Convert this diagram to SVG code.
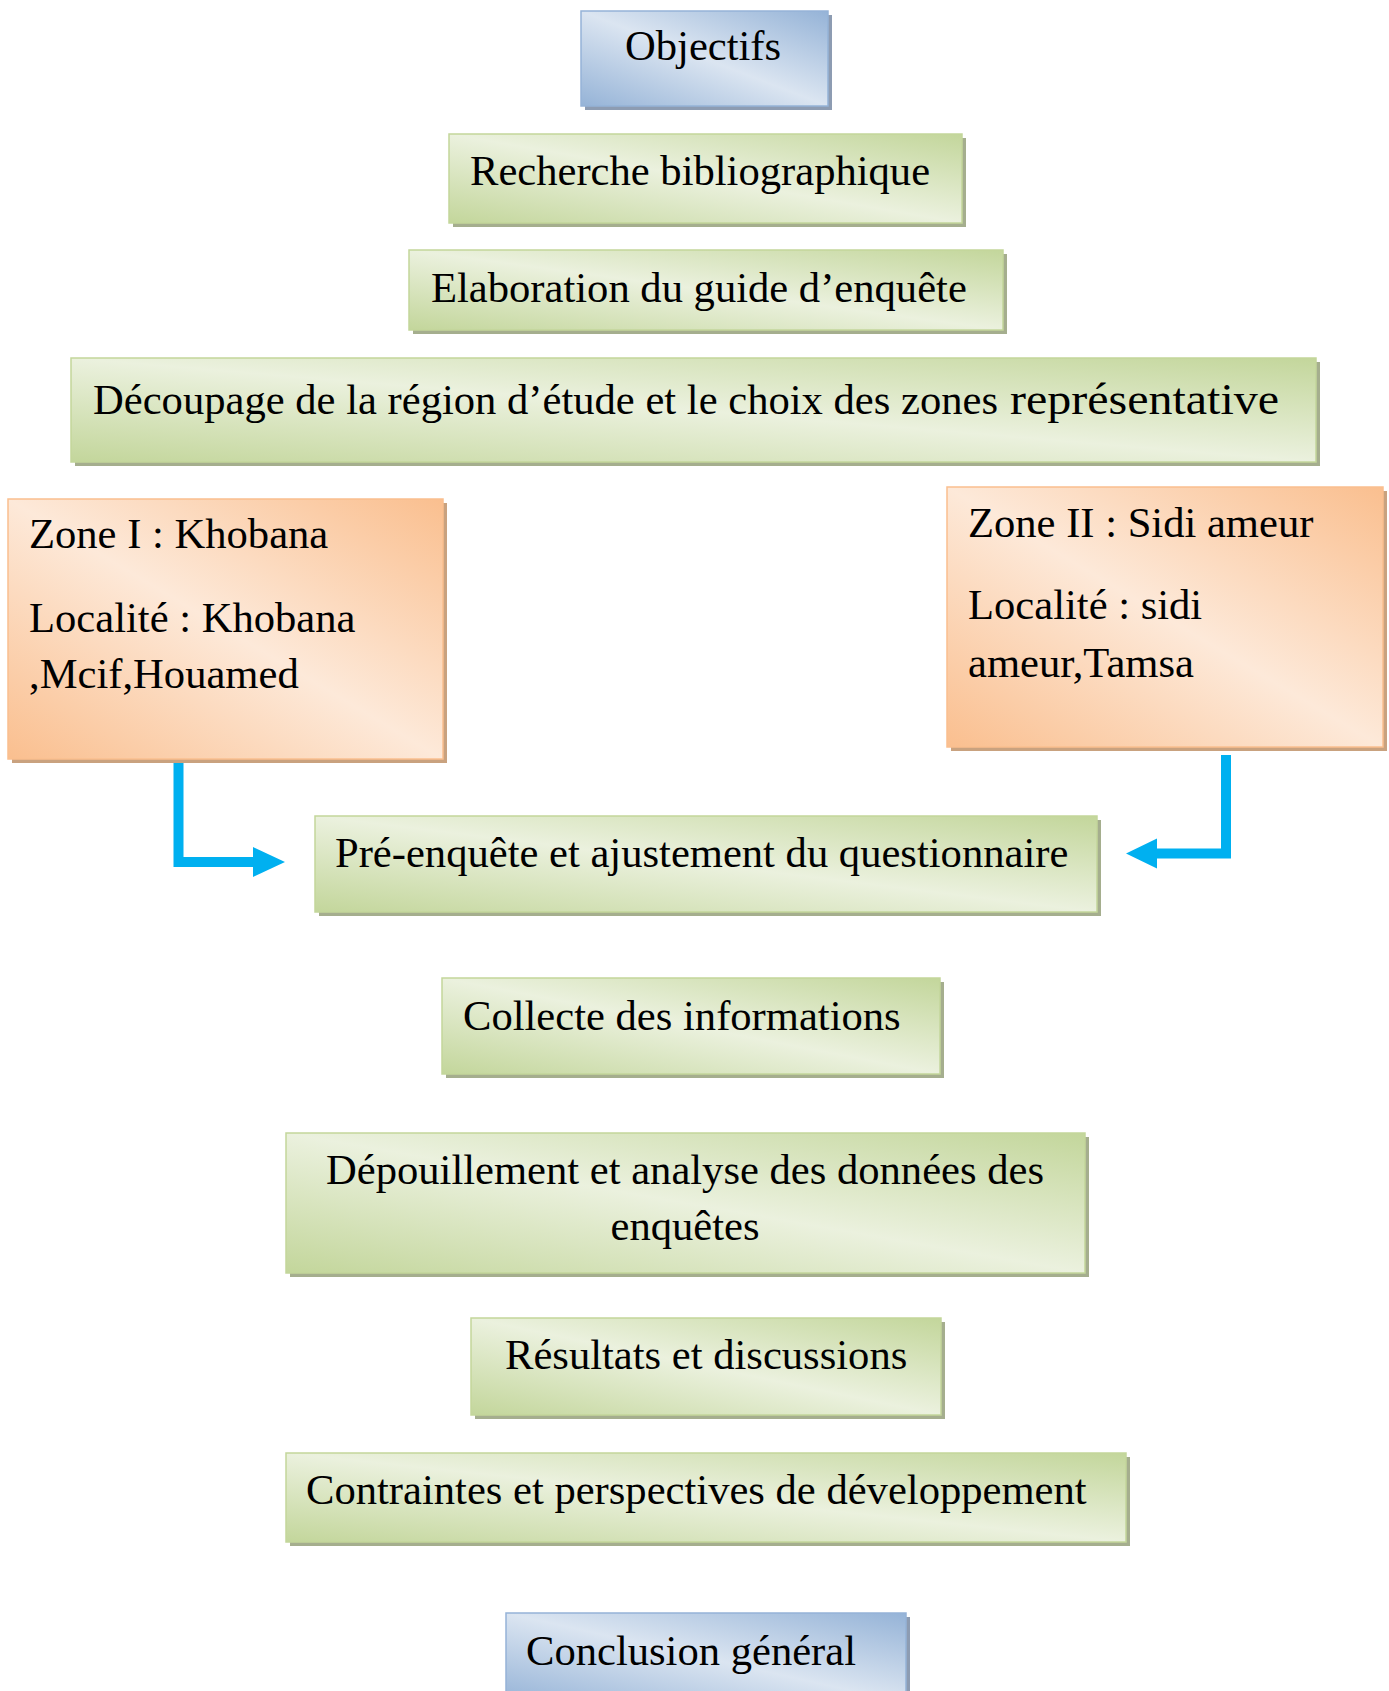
<svg xmlns="http://www.w3.org/2000/svg" width="1389" height="1691" viewBox="0 0 1389 1691">
<defs>
<linearGradient id="gGreen" x1="1" y1="0" x2="0" y2="1">
<stop offset="0" stop-color="#c3d69b"/><stop offset="0.5" stop-color="#ebf1de"/><stop offset="1" stop-color="#c3d69b"/>
</linearGradient>
<linearGradient id="gBlue" x1="1" y1="0" x2="0" y2="1">
<stop offset="0" stop-color="#95b3d7"/><stop offset="0.5" stop-color="#dbe5f1"/><stop offset="1" stop-color="#95b3d7"/>
</linearGradient>
<linearGradient id="gOrange" x1="1" y1="0" x2="0" y2="1">
<stop offset="0" stop-color="#fabf8f"/><stop offset="0.5" stop-color="#fde9d9"/><stop offset="1" stop-color="#fabf8f"/>
</linearGradient>
</defs>
<style>
text{font-family:"Liberation Serif","Times New Roman",serif;font-size:42.6px;fill:#000}
.sg{fill:#a5ae8e}
.sb{fill:#8d9cb2}
.so{fill:#c9a27f}
.green{fill:url(#gGreen);stroke:#c3d69b;stroke-width:1.5}
.blue{fill:url(#gBlue);stroke:#95b3d7;stroke-width:1.5}
.orange{fill:url(#gOrange);stroke:#fabf8f;stroke-width:1.5}
.conn{fill:none;stroke:#00b0f0;stroke-width:10;stroke-linejoin:miter}
.head{fill:#00b0f0}
</style>
<rect width="1389" height="1691" fill="#ffffff"/>

<g id="objectifs">
<rect class="sb" x="585" y="15" width="247" height="95"/>
<rect class="blue" x="581" y="11" width="247" height="95"/>
<text x="625" y="60">Objectifs</text>
</g>

<g id="recherche">
<rect class="sg" x="453" y="138" width="513" height="89"/>
<rect class="green" x="449" y="134" width="513" height="89"/>
<text x="470" y="185">Recherche bibliographique</text>
</g>

<g id="elaboration">
<rect class="sg" x="413" y="254" width="594" height="80"/>
<rect class="green" x="409" y="250" width="594" height="80"/>
<text x="431" y="302">Elaboration du guide d’enquête</text>
</g>

<g id="decoupage">
<rect class="sg" x="75" y="362" width="1245" height="104"/>
<rect class="green" x="71" y="358" width="1245" height="104"/>
<text x="93" y="414" textLength="905" lengthAdjust="spacingAndGlyphs">Découpage de la région d’étude et le choix des zones</text>
<text x="1010" y="414" style="font-size:45px" textLength="269" lengthAdjust="spacingAndGlyphs">représentative</text>
</g>

<g id="zone1">
<rect class="so" x="12" y="503" width="435" height="260"/>
<rect class="orange" x="8" y="499" width="435" height="260"/>
<text x="29" y="548">Zone I : Khobana</text>
<text x="29" y="632">Localité : Khobana</text>
<text x="29" y="688">,Mcif,Houamed</text>
</g>

<g id="zone2">
<rect class="so" x="951" y="491" width="436" height="260"/>
<rect class="orange" x="947" y="487" width="436" height="260"/>
<text x="968" y="537">Zone II : Sidi ameur</text>
<text x="968" y="619">Localité : sidi</text>
<text x="968" y="677">ameur,Tamsa</text>
</g>

<g id="preenquete">
<rect class="sg" x="319" y="820" width="782" height="96"/>
<rect class="green" x="315" y="816" width="782" height="96"/>
<text x="335" y="867">Pré-enquête et ajustement du questionnaire</text>
</g>

<g id="collecte">
<rect class="sg" x="446" y="982" width="498" height="96"/>
<rect class="green" x="442" y="978" width="498" height="96"/>
<text x="463" y="1030">Collecte des informations</text>
</g>

<g id="depouillement">
<rect class="sg" x="290" y="1137" width="799" height="140"/>
<rect class="green" x="286" y="1133" width="799" height="140"/>
<text x="685" y="1184" text-anchor="middle">Dépouillement et analyse des données des</text>
<text x="685" y="1240" text-anchor="middle">enquêtes</text>
</g>

<g id="resultats">
<rect class="sg" x="475" y="1322" width="470" height="97"/>
<rect class="green" x="471" y="1318" width="470" height="97"/>
<text x="505" y="1369">Résultats et discussions</text>
</g>

<g id="contraintes">
<rect class="sg" x="290" y="1457" width="840" height="89"/>
<rect class="green" x="286" y="1453" width="840" height="89"/>
<text x="306" y="1504">Contraintes et perspectives de développement</text>
</g>

<g id="conclusion">
<rect class="sb" x="510" y="1617" width="400" height="90"/>
<rect class="blue" x="506" y="1613" width="400" height="90"/>
<text x="526" y="1665">Conclusion général</text>
</g>

<g id="connectors">
<path class="conn" d="M178.5 763 V862 H255"/>
<polygon class="head" points="253,847 285,862 253,877"/>
<path class="conn" d="M1226 755 V853.5 H1155"/>
<polygon class="head" points="1157,838.5 1126,853.5 1157,868.5"/>
</g>
</svg>
